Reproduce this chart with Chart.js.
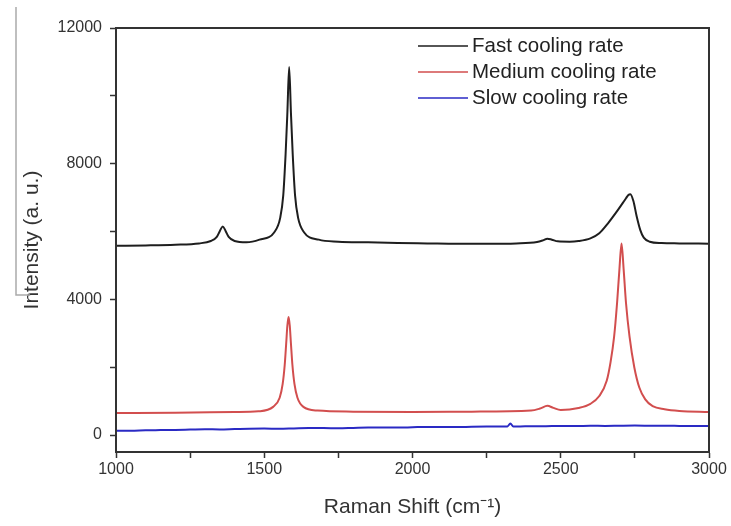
<!DOCTYPE html>
<html>
<head>
<meta charset="utf-8">
<script src="https://cdn.jsdelivr.net/npm/chart.js@4"></script>
<style>
  html, body { margin: 0; padding: 0; background: #fff; }
  #wrap { width: 731px; height: 526px; }
</style>
</head>
<body>
<div id="wrap"><canvas id="ramanChart" width="731" height="526"></canvas></div>
<script>
// Raman spectra for three cooling rates
const seriesNames = ["Fast cooling rate", "Medium cooling rate", "Slow cooling rate"];
const seriesColors = ["#1e1e1e", "#d24e4e", "#2a2ac4"];

const fastShift = [1000, 1100, 1200, 1280, 1320, 1340, 1350, 1360, 1370, 1380, 1400, 1440, 1484, 1534, 1554, 1564, 1572, 1578, 1584, 1590, 1596, 1604, 1614, 1634, 1684, 1750, 1850, 1950, 2050, 2150, 2250, 2350, 2420, 2440, 2455, 2470, 2490, 2530, 2560, 2600, 2630, 2660, 2690, 2710, 2720, 2728, 2735, 2745, 2756, 2768, 2780, 2800, 2840, 2900, 3000];
const fastIntensity = [5580, 5590, 5610, 5650, 5720, 5840, 6010, 6150, 6010, 5840, 5720, 5680, 5760, 5980, 6410, 7060, 8280, 9500, 10850, 9500, 8280, 7060, 6410, 5980, 5760, 5700, 5680, 5660, 5650, 5640, 5640, 5650, 5690, 5740, 5790, 5760, 5710, 5700, 5720, 5800, 5950, 6250, 6600, 6850, 6980, 7080, 7100, 6900, 6450, 6050, 5820, 5700, 5660, 5650, 5640];

const mediumShift = [1000, 1200, 1400, 1480, 1530, 1552, 1562, 1569, 1574, 1578, 1582, 1586, 1590, 1595, 1602, 1612, 1632, 1680, 1800, 2000, 2200, 2400, 2430, 2455, 2475, 2500, 2560, 2600, 2630, 2655, 2668, 2680, 2690, 2698, 2705, 2712, 2720, 2732, 2748, 2765, 2785, 2810, 2850, 2900, 3000];
const mediumIntensity = [650, 660, 680, 700, 830, 1100, 1500, 2065, 2700, 3230, 3480, 3230, 2700, 2065, 1500, 1100, 830, 720, 690, 680, 690, 720, 780, 860, 800, 740, 800, 920, 1150, 1600, 2150, 2900, 3900, 4900, 5650, 4900, 3900, 2900, 2000, 1400, 1050, 850, 760, 710, 680];

const slowShift = [1000, 1050, 1100, 1150, 1200, 1250, 1300, 1350, 1400, 1450, 1500, 1550, 1600, 1650, 1700, 1750, 1800, 1850, 1900, 1950, 2000, 2050, 2100, 2150, 2200, 2250, 2300, 2320, 2330, 2340, 2380, 2450, 2500, 2550, 2600, 2650, 2700, 2750, 2800, 2850, 2900, 2950, 3000];
const slowIntensity = [130, 125, 140, 145, 150, 160, 170, 165, 175, 185, 190, 185, 195, 205, 205, 200, 210, 220, 225, 220, 230, 240, 240, 235, 245, 250, 250, 255, 340, 250, 258, 262, 270, 268, 272, 270, 275, 278, 275, 272, 270, 268, 265];

const xMajorTicks = [1000, 1500, 2000, 2500, 3000];
const xMinorTicks = [1250, 1750, 2250, 2750];
const yMajorTicks = [0, 4000, 8000, 12000];
const yMinorTicks = [2000, 6000, 10000];

const toPoints = (xs, ys) => xs.map((x, i) => ({ x: x, y: ys[i] }));

const seriesData = [
  toPoints(fastShift, fastIntensity),
  toPoints(mediumShift, mediumIntensity),
  toPoints(slowShift, slowIntensity),
];

const tickFont = { family: "'Liberation Sans', Arial, sans-serif", size: 16 };
const titleFont = { family: "'Liberation Sans', Arial, sans-serif", size: 21 };

const buildTicks = (major, minor) => (scale) => {
  scale.ticks = major.concat(minor).sort((a, b) => a - b).map((v) => ({ value: v }));
};

// frame, legend and the stray margin line
const framePlugin = {
  id: "frameAndLegend",
  afterDraw: (chart) => {
    const { ctx, chartArea } = chart;
    ctx.save();
    ctx.strokeStyle = "#333";
    ctx.lineWidth = 2;
    ctx.strokeRect(chartArea.left, chartArea.top, chartArea.right - chartArea.left, chartArea.bottom - chartArea.top);

    ctx.strokeStyle = "#aaa";
    ctx.lineWidth = 1.5;
    ctx.beginPath();
    ctx.moveTo(16, 7);
    ctx.lineTo(16, 295);
    ctx.lineTo(30, 295);
    ctx.stroke();

    ctx.font = "20.5px 'Liberation Sans', Arial, sans-serif";
    ctx.textBaseline = "middle";
    ctx.fillStyle = "#222";
    chart.data.datasets.forEach((ds, i) => {
      const y = 46 + i * 26;
      ctx.strokeStyle = ds.borderColor;
      ctx.lineWidth = 1.5;
      ctx.beginPath();
      ctx.moveTo(418, y);
      ctx.lineTo(468, y);
      ctx.stroke();
      ctx.fillText(ds.label, 472, y);
    });
    ctx.restore();
  },
};

new Chart(document.getElementById("ramanChart").getContext("2d"), {
  type: "line",
  data: {
    datasets: seriesNames.map((name, i) => ({
      label: name,
      data: seriesData[i],
      borderColor: seriesColors[i],
      borderWidth: 2,
      pointRadius: 0,
      fill: false,
      cubicInterpolationMode: "monotone",
    })),
  },
  options: {
    responsive: false,
    animation: false,
    layout: { padding: { top: 28, right: 22, left: 0, bottom: 0 } },
    scales: {
      x: {
        type: "linear",
        min: 1000,
        max: 3000,
        afterBuildTicks: buildTicks(xMajorTicks, xMinorTicks),
        afterFit: (scale) => { scale.height = 74; },
        grid: { drawOnChartArea: false, tickLength: 6, color: "#333", tickWidth: 1.5 },
        border: { color: "#333", width: 2 },
        ticks: {
          color: "#333",
          font: tickFont,
          padding: 2,
          maxRotation: 0,
          callback: (v) => (xMajorTicks.includes(v) ? String(v) : ""),
        },
        title: {
          display: true,
          text: "Raman Shift (cm\u207B\u00B9)",
          color: "#333",
          font: titleFont,
          padding: { top: 0, bottom: 6 },
        },
      },
      y: {
        min: -500,
        max: 12000,
        afterBuildTicks: buildTicks(yMajorTicks, yMinorTicks),
        afterFit: (scale) => { scale.width = 116; },
        grid: { drawOnChartArea: false, tickLength: 6, color: "#333", tickWidth: 1.5 },
        border: { color: "#333", width: 2 },
        ticks: {
          color: "#333",
          font: tickFont,
          padding: 8,
          callback: (v) => (yMajorTicks.includes(v) ? String(v) : ""),
        },
        title: {
          display: true,
          text: "Intensity (a. u.)",
          color: "#333",
          font: titleFont,
          padding: { top: 20, bottom: 0 },
        },
      },
    },
    plugins: {
      legend: { display: false },
      tooltip: { enabled: false },
    },
  },
  plugins: [framePlugin],
});
</script>
</body>
</html>
